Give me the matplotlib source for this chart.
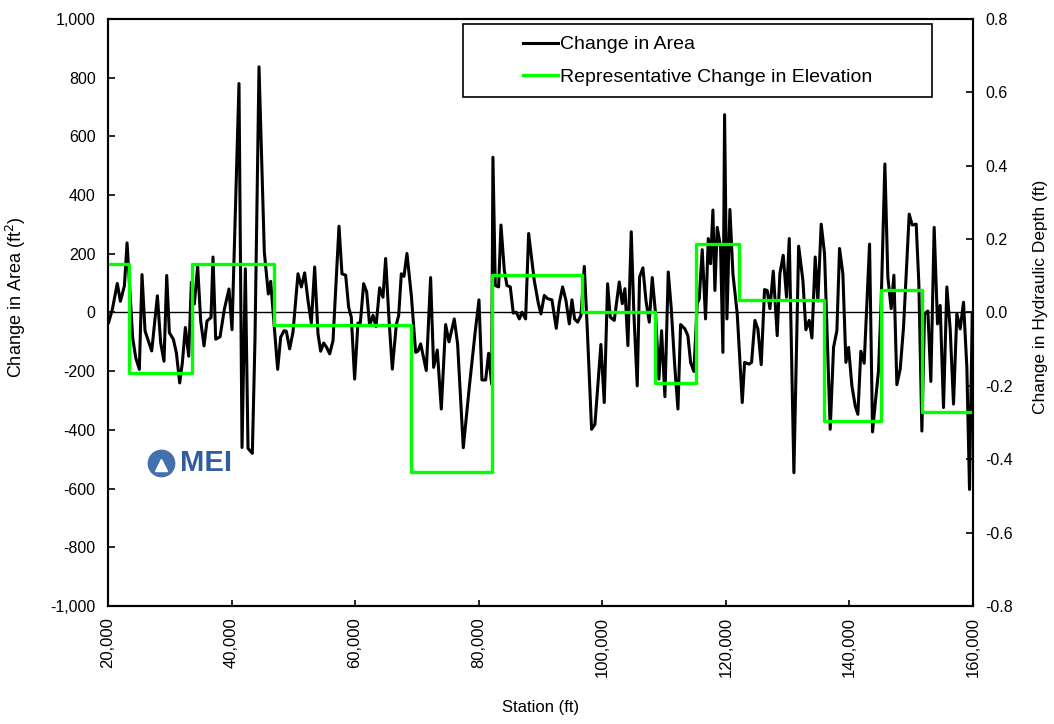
import numpy as np
import matplotlib
matplotlib.use('Agg')
import matplotlib.pyplot as plt
from matplotlib.ticker import FuncFormatter
from matplotlib.patches import Rectangle

plt.rcParams['font.family'] = ['Liberation Sans', 'DejaVu Sans']

# change in area along the reach (station ft, area ft2)
area_station = [20100, 20700, 21500, 22000, 22650, 23080, 23990, 24480, 25070, 25500,
                25990, 26530, 27070, 27990, 28520, 29060, 29500, 29930, 30570, 31060,
                31600, 32030, 32520, 33060, 33490, 33970, 34510, 35000, 35540, 36020,
                36670, 36990, 37430, 38130, 38830, 39580, 40070, 40560, 41200, 41690,
                42230, 42660, 43360, 43790, 44440, 45300, 45950, 46330, 47460, 47950,
                48490, 48860, 49400, 49940, 50750, 51290, 51830, 52370, 52910, 53450,
                53990, 54420, 54910, 55390, 55880, 56420, 57390, 57870, 58470, 58950,
                59380, 59920, 60460, 60840, 61380, 61870, 62350, 62890, 63380, 63970,
                64510, 64940, 65480, 66020, 66670, 67050, 67480, 67910, 68390, 69100,
                69800, 70170, 70610, 71520, 72220, 72710, 73300, 73950, 74650, 75200,
                76050, 76590, 77510, 78480, 79400, 80050, 80530, 81130, 81610, 82100,
                82310, 82690, 83230, 83610, 84150, 84580, 85120, 85600, 86090, 86580,
                87010, 87600, 88090, 89000, 89650, 90080, 90620, 91160, 91860, 92560,
                93050, 93590, 94130, 94670, 95100, 95530, 96020, 96560, 97100, 97580,
                98280, 98820, 99790, 100330, 100870, 101300, 101950, 102760, 103250, 103680,
                104160, 104700, 105130, 105670, 106050, 106590, 107080, 107620, 108100, 108640,
                109180, 109610, 110150, 110690, 111180, 111720, 112260, 112690, 113390, 113870,
                114310, 114840, 115380, 115710, 116190, 116730, 117170, 117540, 117920, 118240,
                118620, 119160, 119540, 119810, 120190, 120670, 121160, 121860, 122670, 123050,
                123750, 124180, 124720, 125200, 125740, 126280, 126710, 127150, 127690, 128330,
                128760, 129300, 129840, 130280, 131030, 131800, 132490, 132970, 133510, 133950,
                134480, 134910, 135450, 135990, 136910, 137450, 137990, 138420, 138960, 139450,
                139880, 140420, 140960, 141390, 141870, 142410, 143280, 143760, 144190, 144730,
                145160, 145760, 146240, 146780, 147220, 147700, 148240, 148780, 149700, 150180,
                150830, 151260, 151750, 152180, 152720, 153200, 153740, 154280, 154710, 155250,
                155790, 156330, 156870, 157410, 157950, 158490, 159030, 159460, 159900]
area_change = [-34, 11, 99, 38, 91, 237, -86, -154, -194, 129,
               -63, -97, -131, 57, -103, -166, 126, -69, -91, -137,
               -240, -171, -51, -149, 103, 29, 158, -29, -114, -29,
               -17, 189, -91, -83, 11, 80, -59, 309, 780, -460,
               149, -463, -480, -91, 837, 206, 63, 106, -194, -84,
               -62, -64, -124, -67, 132, 87, 135, 41, -36, 155,
               -73, -132, -104, -119, -141, -96, 294, 132, 127, 18,
               -16, -227, -36, -36, 98, 70, -44, -10, -48, 84,
               52, 184, -22, -193, -41, -10, 132, 123, 201, 58,
               -136, -132, -107, -198, 119, -187, -128, -329, -41, -100,
               -22, -107, -461, -255, -73, 43, -230, -230, -139, -244,
               529, 92, 87, 298, 144, 92, 87, -2, 1, -22,
               1, -22, 269, 109, 32, -5, 58, 47, 43, -54,
               32, 87, 41, -39, 43, -22, -33, -10, 157, -56,
               -398, -381, -109, -307, 98, -16, -27, 104, 30, 81,
               -113, 275, -5, -250, 121, 152, 41, -33, 119, -5,
               -227, -62, -287, 138, 13, -176, -329, -41, -56, -79,
               -170, -201, 30, 47, 214, -22, 252, 166, 349, 75,
               290, 223, -136, 674, -22, 351, 132, -5, -307, -170,
               -176, -170, -27, -56, -178, 78, 75, 13, 141, -79,
               132, 195, 52, 252, -546, 226, 109, -59, -27, -87,
               189, 39, 301, 201, -398, -119, -62, 218, 132, -170,
               -119, -250, -318, -347, -132, -173, 233, -407, -312, -198,
               35, 506, 121, 13, 127, -246, -193, -50, 335, 298,
               301, 98, -404, -5, 5, -235, 290, -39, 24, -324,
               87, -56, -312, -5, -56, 35, -187, -603, -5]

# representative change in elevation (step edges, ft)
elev_station = [20000, 23450, 33540, 46860, 69060, 82090, 96650, 108600, 115200,
                122200, 135900, 145170, 151700, 160000]
elev_change = [0.133, -0.165, 0.132, -0.034, -0.436, 0.101, 0.0, -0.193, 0.186,
               0.033, -0.295, 0.062, -0.272, -0.272]

fig = plt.figure(figsize=(10.54, 7.24), dpi=100)
ax = fig.add_axes([0.1025, 0.163, 0.8205, 0.8108])
ax2 = ax.twinx()

ax.axhline(0, color='black', lw=1.0, zorder=1)
l1, = ax.plot(area_station, area_change, color='black', lw=2.2, zorder=3,
              label='Change in Area')
l2, = ax2.step(elev_station, elev_change, where='post', color='#00FF00', lw=2.4,
               label='Representative Change in Elevation')

ax.set_xlim(20000, 160000)
ax.set_ylim(-1000, 1000)
ax2.set_ylim(-0.8, 0.8)
ax.set_xticks(np.arange(20000, 160001, 20000))
ax.set_yticks(np.arange(-1000, 1001, 200))
ax2.set_yticks(np.round(np.arange(-0.8, 0.81, 0.2), 1))

ax.xaxis.set_major_formatter(FuncFormatter(lambda v, p: f'{v:,.0f}'))
ax.yaxis.set_major_formatter(FuncFormatter(lambda v, p: f'{v:,.0f}'))
ax2.yaxis.set_major_formatter(FuncFormatter(lambda v, p: f'{round(v, 1) + 0.0:.1f}'))

ax.tick_params(axis='x', direction='in', length=4, width=1.2, labelsize=12,
               labelrotation=90, pad=8)
ax.tick_params(axis='y', direction='in', length=5, width=1.2, labelsize=11.5, pad=9)
ax2.tick_params(axis='y', direction='in', length=5, width=1.2, labelsize=11.5, pad=9)

for a in (ax, ax2):
    for s in a.spines.values():
        s.set_linewidth(1.5)
        s.set_color('black')

ax.set_xlabel('Station (ft)', fontsize=12)
ax.xaxis.set_label_coords(0.5, -0.16)
ax.set_ylabel('Change in Area (ft$^2$)', fontsize=13)
ax.yaxis.set_label_coords(-0.092, 0.526)
ax2.set_ylabel('Change in Hydraulic Depth (ft)', fontsize=12.5)
ax2.yaxis.set_label_coords(1.069, 0.526)

# legend box
ax2.add_patch(Rectangle((0.41, 0.867), 0.543, 0.124, transform=ax2.transAxes,
                        facecolor='white', edgecolor='black', lw=1.2, zorder=9))
ax2.legend([l1, l2], [l1.get_label(), l2.get_label()], loc='center',
           bbox_to_anchor=(0.6815, 0.929), frameon=False, fontsize=14,
           handlelength=1.8, handletextpad=0.1, labelspacing=0.75).set_zorder(10)

# MEI logo
ax.plot([0.061], [0.2436], 'o', color='#4470AE', markersize=19,
        transform=ax.transAxes, zorder=5)
ax.plot([0.061], [0.2400], '^', color='white', markersize=9,
        transform=ax.transAxes, zorder=6)
ax.text(0.083, 0.2436, 'MEI', transform=ax.transAxes, fontsize=21,
        fontweight='bold', color='#2F5D9E', va='center', ha='left', zorder=6)

plt.savefig('out.png', dpi=100)
